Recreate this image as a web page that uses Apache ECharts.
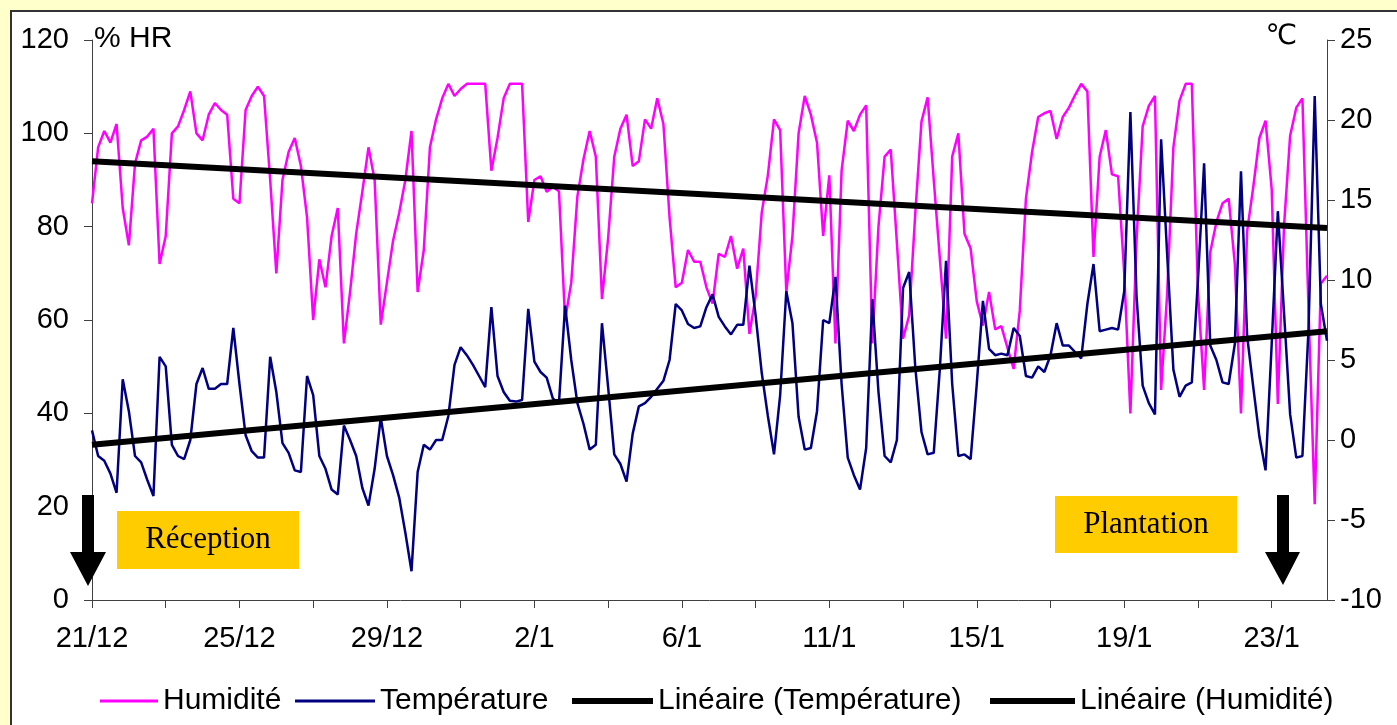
<!DOCTYPE html>
<html><head><meta charset="utf-8">
<script src="https://cdn.jsdelivr.net/npm/echarts/dist/echarts.min.js"></script>
<style>
html,body{margin:0;padding:0;background:#FFFFCC;width:1397px;height:725px;overflow:hidden;}
#frame{position:absolute;left:10px;top:10px;width:1400px;height:730px;background:#fff;border:2px solid #333;}
#chart{position:absolute;left:0;top:0;width:1397px;height:725px;}
</style></head><body>
<div id="frame"></div><div id="chart"></div>
<script>
// 6 readings per day, from 21/12 to 25/1
const tickLabels = ['21/12','25/12','29/12','2/1','6/1','11/1','15/1','19/1','23/1'];
const humidity = [
85,97,100.5,98,102,84,76,93.5,98.5,99.3,101,72,78,100,101.5,105,109,100,98.5,104,
106.5,105,104,86,85,105,108,110,108,90,70,90,96,99,93,82,60,73,67,78,
84,55,66,78.5,87.5,97,90,59,68,77,83,90,100.5,66,75,97,103,107.5,110.6,108,
109.5,110.6,110.6,110.6,110.6,92,99,107.5,110.6,110.6,110.6,81,90,90.8,87.5,88.5,87.6,60,68,86.5,
94.5,100.5,95,64.5,77.5,95,101,104,93,94,103,101,107.5,102,82,67,68,75,72.5,72.5,
67,63.5,74.2,73.5,78,71,75.3,57,65,83,91,103,100.7,66,78,100,108,104,98,78,
91,55,92,102.7,100.5,104,106,55,80,95,96.5,76.5,56,61,83,102.5,107.7,90,73,56,
95,100,78.5,75.3,64,58.8,66,58,58.7,54,49.5,62,86,96,103.5,104.3,104.8,98.8,103.5,105.5,
108.2,110.6,109,73.5,95,100.7,91.2,90.8,70,40,77,101.5,105.9,108,45,66,97,107,110.6,110.6,
66,45,74.5,81,85,86,72,40,79,88.5,99,102.7,88,42,80,99.5,105.5,107.5,62,20.5,
67.8,69.5];
const temperature = [
0.6,-1.0,-1.3,-2.1,-3.3,3.8,1.8,-1.0,-1.4,-2.5,-3.5,5.2,4.6,-0.3,-1.0,-1.2,0.0,3.5,4.5,3.2,
3.2,3.5,3.5,7.0,3.5,0.3,-0.7,-1.1,-1.1,5.2,3.0,-0.2,-0.8,-1.9,-2.0,4.0,2.8,-1.0,-1.8,-3.1,
-3.4,0.9,0.0,-1.0,-3.0,-4.1,-1.8,1.4,-1.0,-2.2,-3.6,-5.8,-8.2,-2.0,-0.3,-0.6,0.0,0.0,1.5,4.7,
5.8,5.3,4.7,4.0,3.3,8.3,4.0,3.0,2.45,2.4,2.5,8.2,4.9,4.25,3.9,2.6,2.3,8.4,5.0,2.3,
1.0,-0.6,-0.3,7.3,3.3,-0.9,-1.5,-2.6,0.4,2.1,2.3,2.7,3.2,3.7,5.0,8.5,8.1,7.25,7.0,7.1,
8.3,9.1,7.7,7.1,6.6,7.2,7.2,10.9,7.8,4.2,1.5,-0.9,2.8,9.3,7.3,1.45,-0.6,-0.5,1.8,7.5,
7.3,10.2,3.5,-1.1,-2.2,-3.1,-0.5,8.8,3.0,-1.0,-1.4,0.0,9.5,10.5,4.5,0.5,-0.9,-0.8,4.5,11.2,
3.5,-1.0,-0.9,-1.2,3.5,8.7,5.7,5.3,5.4,5.3,7.0,6.5,4.0,3.9,4.6,4.25,5.3,7.3,5.9,5.9,
5.5,5.1,8.5,11.0,6.8,6.9,7.0,6.9,9.3,20.5,9.0,3.4,2.3,1.6,18.8,11.5,4.4,2.7,3.4,3.6,
10.0,17.3,5.9,5.0,3.6,3.5,6.0,16.8,6.5,3.3,0.2,-1.9,6.0,14.3,8.0,1.6,-1.1,-1.0,7.0,21.5,
8.5,6.2];
const humTrend = [94.0, 79.7];
const tempTrend = [-0.3, 6.8];
const categories = humidity.map((_, i) => i);
const last = categories.length - 1;

const FONT = "'Liberation Sans', Arial, sans-serif";
const legendText = {fontFamily: FONT, fontSize: 30, color: '#000'};
function leg(name, left, w, h) {
  return {left: left, top: 681, itemWidth: w, itemHeight: h, icon: 'rect',
          textStyle: legendText, data: [name], selectedMode: false};
}
const chart = echarts.init(document.getElementById('chart'), null, {renderer: 'canvas'});
chart.setOption({
  animation: false,
  backgroundColor: 'transparent',
  grid: {left: 92, right: 70, top: 40, bottom: 125, containLabel: false},
  legend: [
    leg('Humidité', 95, 58, 3),
    leg('Température', 290, 80, 3),
    leg('Linéaire (Température)', 567, 81, 6),
    leg('Linéaire (Humidité)', 985, 85, 6)
  ],
  xAxis: {
    type: 'category', data: categories, boundaryGap: false,
    axisLine: {lineStyle: {color: '#404040', width: 1}},
    axisTick: {length: 8, interval: (i) => i % 12 === 0, lineStyle: {color: '#404040'}},
    axisLabel: {
      interval: (i) => i % 24 === 0, margin: 24,
      formatter: (v, i) => tickLabels[i / 24] || '',
      fontFamily: FONT, fontSize: 29, color: '#000'
    },
    splitLine: {show: false}
  },
  yAxis: [
    {type: 'value', min: 0, max: 120, interval: 20, position: 'left',
     axisLine: {show: true, lineStyle: {color: '#404040'}},
     axisTick: {show: true, length: 8, lineStyle: {color: '#404040'}},
     axisLabel: {margin: 23, fontFamily: FONT, fontSize: 29, color: '#000'},
     splitLine: {show: false}},
    {type: 'value', min: -10, max: 25, interval: 5, position: 'right',
     axisLine: {show: true, lineStyle: {color: '#404040'}},
     axisTick: {show: true, length: 8, lineStyle: {color: '#404040'}},
     axisLabel: {margin: 13, fontFamily: FONT, fontSize: 29, color: '#000'},
     splitLine: {show: false}}
  ],
  series: [
    {name: 'Humidité', type: 'line', yAxisIndex: 0, data: humidity, symbol: 'none',
     lineStyle: {color: '#FF00FF', width: 2.5}, itemStyle: {color: '#FF00FF'}, z: 2},
    {name: 'Température', type: 'line', yAxisIndex: 1, data: temperature, symbol: 'none',
     lineStyle: {color: '#000080', width: 2.5}, itemStyle: {color: '#000080'}, z: 3},
    {name: 'Linéaire (Température)', type: 'line', yAxisIndex: 1, symbol: 'none',
     data: [[0, tempTrend[0]], [last, tempTrend[1]]],
     lineStyle: {color: '#000', width: 6}, itemStyle: {color: '#000'}, z: 4},
    {name: 'Linéaire (Humidité)', type: 'line', yAxisIndex: 0, symbol: 'none',
     data: [[0, humTrend[0]], [last, humTrend[1]]],
     lineStyle: {color: '#000', width: 6}, itemStyle: {color: '#000'}, z: 4}
  ],
  graphic: [
    {type: 'text', left: 94, top: 24, z: 10,
     style: {text: '% HR', font: "30px 'Liberation Sans', Arial", fill: '#000'}},
    {type: 'text', right: 100, top: 23, z: 10,
     style: {text: '℃', font: "28px 'DejaVu Sans', 'Liberation Sans'", fill: '#000'}},
    {type: 'rect', z: 10, shape: {x: 117, y: 511, width: 182, height: 58}, style: {fill: '#FFCC00'}},
    {type: 'text', z: 11, x: 208, y: 540,
     style: {text: 'Réception', font: "31px 'Liberation Serif', 'Times New Roman', serif", fill: '#000', align: 'center', verticalAlign: 'middle'}},
    {type: 'rect', z: 10, shape: {x: 1055, y: 496, width: 182, height: 57}, style: {fill: '#FFCC00'}},
    {type: 'text', z: 11, x: 1146, y: 525,
     style: {text: 'Plantation', font: "31px 'Liberation Serif', 'Times New Roman', serif", fill: '#000', align: 'center', verticalAlign: 'middle'}},
    {type: 'polygon', z: 12, shape: {points: [[82,495],[94,495],[94,552],[106,552],[88,586],[70,552],[82,552]]}, style: {fill: '#000'}},
    {type: 'polygon', z: 12, shape: {points: [[1277,495],[1289,495],[1289,552],[1300,552],[1283,585],[1265,552],[1277,552]]}, style: {fill: '#000'}}
  ]
});
</script></body></html>
